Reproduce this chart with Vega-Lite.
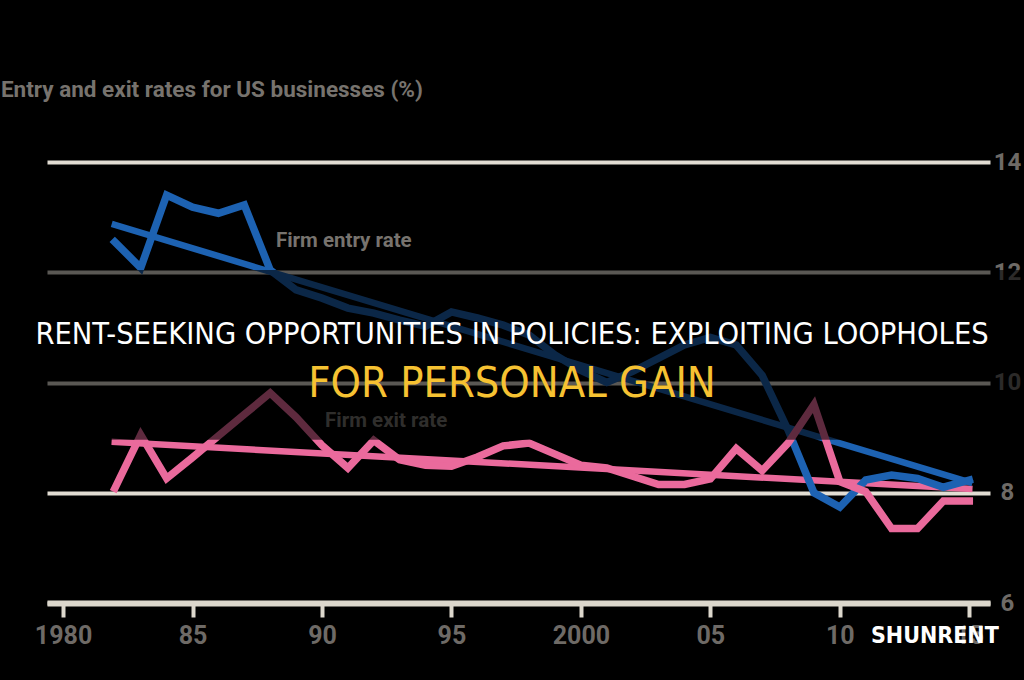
{
  "$schema": "https://vega.github.io/schema/vega-lite/v6.json",
  "width": 943,
  "height": 441,
  "autosize": "none",
  "padding": {"left": 47, "top": 162, "right": 34, "bottom": 77},
  "background": "#000000",
  "config": {"view": {"stroke": null}, "font": "Roboto"},
  "datasets": {
    "entry": [
      {"year": 1982, "value": 12.55}, {"year": 1983, "value": 12.08}, {"year": 1984, "value": 13.40},
      {"year": 1985, "value": 13.18}, {"year": 1986, "value": 13.07}, {"year": 1987, "value": 13.22},
      {"year": 1988, "value": 12.04}, {"year": 1989, "value": 11.68}, {"year": 1990, "value": 11.53},
      {"year": 1991, "value": 11.35}, {"year": 1992, "value": 11.26}, {"year": 1993, "value": 11.13},
      {"year": 1994, "value": 11.02}, {"year": 1995, "value": 11.28}, {"year": 1996, "value": 11.17},
      {"year": 1997, "value": 11.04}, {"year": 1998, "value": 10.86}, {"year": 1999, "value": 10.50},
      {"year": 2000, "value": 10.22}, {"year": 2001, "value": 10.00}, {"year": 2002, "value": 10.20},
      {"year": 2003, "value": 10.44}, {"year": 2004, "value": 10.68}, {"year": 2005, "value": 10.82},
      {"year": 2006, "value": 10.68}, {"year": 2007, "value": 10.13}, {"year": 2008, "value": 9.14},
      {"year": 2009, "value": 8.00}, {"year": 2010, "value": 7.74}, {"year": 2011, "value": 8.23},
      {"year": 2012, "value": 8.32}, {"year": 2013, "value": 8.26}, {"year": 2014, "value": 8.10},
      {"year": 2015, "value": 8.23}
    ],
    "exit": [
      {"year": 1982, "value": 8.08}, {"year": 1983, "value": 9.05}, {"year": 1984, "value": 8.26},
      {"year": 1985, "value": 8.64}, {"year": 1986, "value": 9.03}, {"year": 1987, "value": 9.42},
      {"year": 1988, "value": 9.81}, {"year": 1989, "value": 9.37}, {"year": 1990, "value": 8.86},
      {"year": 1991, "value": 8.45}, {"year": 1992, "value": 8.95}, {"year": 1993, "value": 8.60},
      {"year": 1994, "value": 8.50}, {"year": 1995, "value": 8.48}, {"year": 1996, "value": 8.65},
      {"year": 1997, "value": 8.85}, {"year": 1998, "value": 8.90}, {"year": 1999, "value": 8.70},
      {"year": 2000, "value": 8.50}, {"year": 2001, "value": 8.45}, {"year": 2002, "value": 8.30},
      {"year": 2003, "value": 8.15}, {"year": 2004, "value": 8.15}, {"year": 2005, "value": 8.25},
      {"year": 2006, "value": 8.80}, {"year": 2007, "value": 8.40}, {"year": 2008, "value": 8.90},
      {"year": 2009, "value": 9.60}, {"year": 2010, "value": 8.20}, {"year": 2011, "value": 8.02},
      {"year": 2012, "value": 7.35}, {"year": 2013, "value": 7.35}, {"year": 2014, "value": 7.85},
      {"year": 2015, "value": 7.85}
    ],
    "entryTrend": [{"year": 1982, "value": 12.86}, {"year": 2015, "value": 8.19}],
    "exitTrend": [{"year": 1982, "value": 8.92}, {"year": 2015, "value": 8.07}]
  },
  "encoding": {
    "x": {
      "field": "year", "type": "quantitative",
      "scale": {"domain": [1979.38, 2015.8], "nice": false, "zero": false},
      "axis": {
        "orient": "bottom", "title": null, "grid": false,
        "values": [1980, 1985, 1990, 1995, 2000, 2005, 2010, 2015],
        "format": "d",
        "labelExpr": "datum.value == 1980 || datum.value == 2000 ? datum.label : slice(datum.label, 2)",
        "domainColor": "#dcd7cc", "domainWidth": 6,
        "tickColor": "#dcd7cc", "tickWidth": 4, "tickSize": 14,
        "labelColor": "#6e6a66", "labelFontSize": 25, "labelFontWeight": "bold",
        "labelPadding": 6, "labelFlush": false
      }
    },
    "y": {
      "field": "value", "type": "quantitative",
      "scale": {"domain": [6, 14], "nice": false, "zero": false},
      "axis": {
        "orient": "right", "title": null, "values": [6, 8, 10, 12, 14],
        "grid": true, "gridColor": "#e2ddd3", "gridWidth": 4,
        "domain": false, "ticks": false,
        "labelColor": "#6e6a66", "labelFontSize": 24, "labelFontWeight": "bold",
        "labelAlign": "center", "labelPadding": 17
      }
    }
  },
  "layer": [
    {"data": {"name": "exitTrend"}, "mark": {"type": "line", "color": "#ea6a9c", "strokeWidth": 6.5, "strokeCap": "square"}},
    {"data": {"name": "entryTrend"}, "mark": {"type": "line", "color": "#1d62b2", "strokeWidth": 6.5, "strokeCap": "square"}},
    {"data": {"name": "entry"}, "mark": {"type": "line", "color": "#1d62b2", "strokeWidth": 7.5, "strokeJoin": "miter", "strokeCap": "square"}},
    {"data": {"name": "exit"}, "mark": {"type": "line", "color": "#ea6a9c", "strokeWidth": 7.5, "strokeJoin": "miter", "strokeCap": "square"}},
    {
      "data": {"values": [{"year": 1977.6, "value": 15.31, "label": "Entry and exit rates for US businesses (%)"}]},
      "mark": {"type": "text", "align": "left", "baseline": "middle", "fontSize": 22.5, "fontWeight": "bold", "color": "#77736e"},
      "encoding": {"text": {"field": "label"}}
    },
    {
      "data": {"values": [{"year": 1988.22, "value": 12.57, "label": "Firm entry rate"}, {"year": 1990.12, "value": 9.30, "label": "Firm exit rate"}]},
      "mark": {"type": "text", "align": "left", "baseline": "middle", "fontSize": 20.5, "fontWeight": "bold", "color": "#77736e"},
      "encoding": {"text": {"field": "label"}}
    },
    {
      "data": {"values": [{"year": 1977.5, "year2": 2017.2, "value": 12.04, "value2": 8.96}]},
      "mark": {"type": "rect", "color": "#000000", "opacity": 0.6},
      "encoding": {"x2": {"field": "year2"}, "y2": {"field": "value2"}}
    },
    {
      "data": {"values": [{"year": 1997.34, "value": 10.86, "label": "RENT-SEEKING OPPORTUNITIES IN POLICIES: EXPLOITING LOOPHOLES"}]},
      "mark": {"type": "text", "align": "center", "baseline": "middle", "fontSize": 30.5, "font": "DejaVu Sans Condensed, sans-serif", "color": "#ffffff"},
      "encoding": {"text": {"field": "label"}}
    },
    {
      "data": {"values": [{"year": 1997.34, "value": 9.97, "label": "FOR PERSONAL GAIN"}]},
      "mark": {"type": "text", "align": "center", "baseline": "middle", "fontSize": 43, "font": "DejaVu Sans Condensed, sans-serif", "color": "#f6c232"},
      "encoding": {"text": {"field": "label"}}
    },
    {
      "data": {"values": [{"year": 2013.67, "value": 5.40, "label": "SHUNRENT"}]},
      "mark": {"type": "text", "align": "center", "baseline": "middle", "fontSize": 23, "fontWeight": "bold", "font": "DejaVu Sans Condensed, sans-serif", "color": "#ffffff"},
      "encoding": {"text": {"field": "label"}}
    }
  ]
}
